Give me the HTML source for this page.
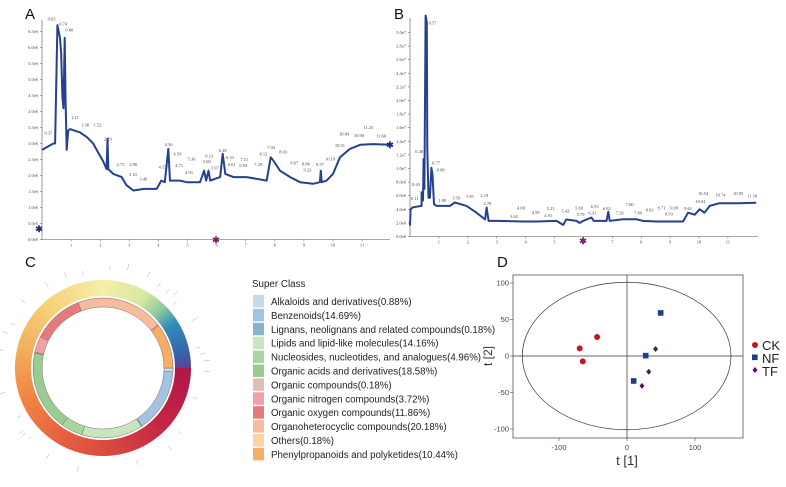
<!DOCTYPE html>
<html><head><meta charset="utf-8"><style>
html,body{margin:0;padding:0;background:#fff;}
svg{display:block;font-family:"Liberation Sans",sans-serif;}
.tk{font-family:"Liberation Serif",serif;font-size:4.5px;fill:#444;}
</style></head><body>
<svg id="fig" width="786" height="487" viewBox="0 0 786 487">
<text x="25" y="19" font-size="15" fill="#111">A</text>
<text x="394" y="19" font-size="15" fill="#111">B</text>
<text x="25" y="267" font-size="15" fill="#111">C</text>
<text x="497" y="267" font-size="15" fill="#111">D</text>
<g id="pa"></g>
<g id="pb"></g>
<g id="pc"></g>
<g id="pl"></g>
<g id="pd"></g>
</svg>
<script>
// ---------- Panel A data ----------
const aTimes=[0,0.39,0.45,0.53,0.62,0.66,0.70,0.74,0.78,0.81,0.85,0.90,0.96,1.3,1.54,1.76,1.94,2.1,2.22,2.25,2.28,2.45,2.74,2.9,3.14,3.5,3.94,4.1,4.22,4.34,4.4,4.74,4.97,5.43,5.57,5.64,5.72,5.78,6.12,6.21,6.3,6.58,7.03,7.72,7.86,7.95,8.18,8.53,8.87,9.32,9.55,9.58,9.61,9.78,10.0,10.24,10.58,10.93,11.39,11.96];
const aVals=[2.8,3.0,3.0,6.7,6.3,5.8,4.45,4.1,6.3,4.3,2.8,3.4,3.45,3.35,3.2,3.0,2.7,2.45,2.2,3.15,2.2,2.05,1.95,1.7,1.53,1.58,1.58,1.84,1.79,2.83,1.84,1.84,1.79,1.79,2.15,1.84,2.15,1.84,1.95,2.68,2.05,1.95,1.95,1.84,2.57,2.47,2.15,1.95,1.79,1.74,1.79,2.15,1.79,1.84,2.05,2.57,2.83,2.96,2.98,2.96];
const aYTicks=["0.0e0","5.0e5","1.0e6","1.5e6","2.0e6","2.5e6","3.0e6","3.5e6","4.0e6","4.5e6","5.0e6","5.5e6","6.0e6","6.5e6"];
const aXTicks=[1,2,3,4,5,6,7,8,9,10,11];
const aLabels=["0.37","0.65","0.74","0.80","1.11","1.38","1.52","2.29","2.73","2.90","3.10","3.49","4.15","4.36","4.59","4.71","4.91","5.36","5.68","6.13","5.97","6.28","6.33","6.61","6.94","7.11","7.29","8.12","7.94","8.03","8.67","8.86","9.23","9.57","10.19","10.51","10.84","10.90","11.25","11.60"];
const aLabT=[0.22,0.33,0.73,0.94,1.13,1.48,1.91,2.26,2.7,3.14,3.12,3.48,4.14,4.35,4.65,4.71,5.06,5.14,5.66,5.75,5.94,6.21,6.46,6.52,6.92,6.95,7.43,7.61,7.87,8.29,8.67,9.07,9.12,9.55,9.9,10.24,10.38,10.89,11.21,11.65];
const aLabI=[3.28,6.84,6.69,6.5,3.76,3.53,3.53,3.1,2.3,2.3,1.98,1.84,2.22,2.92,2.63,2.26,2.05,2.47,2.39,2.57,2.19,2.73,2.52,2.3,2.26,2.45,2.3,2.63,2.83,2.68,2.34,2.31,2.13,2.3,2.47,2.89,3.25,3.2,3.45,3.18];
// ---------- Panel B data ----------
const bTimes=[0,0.02,0.1,0.4,0.4,0.45,0.47,0.5,0.54,0.58,0.6,0.64,0.69,0.74,0.78,0.83,0.92,1.38,1.55,1.96,2.3,2.6,2.65,2.72,3.0,3.92,4.38,5.07,5.3,5.41,5.76,5.87,5.99,6.28,6.36,6.80,6.86,6.91,7.37,7.83,8.06,8.53,9.45,9.62,9.85,10.02,10.19,10.37,10.71,11.4,11.98];
const bVals=[1.6,4.0,4.3,4.5,6.5,5.3,11.4,7.0,32.5,31.5,13.0,5.7,5.7,10.1,9.1,4.75,4.5,4.5,5.0,4.5,3.5,2.5,4.26,2.3,2.3,2.2,2.2,2.3,1.7,2.5,2.3,2.0,2.3,2.8,2.3,2.3,3.65,2.3,2.55,2.55,2.3,2.2,2.2,3.5,3.2,4.0,3.5,4.5,4.9,4.9,4.95];
const bYTicks=["0.0e0","2.0e6","4.0e6","6.0e6","8.0e6","1.0e7","1.2e7","1.4e7","1.6e7","1.8e7","2.0e7","2.2e7","2.4e7","2.6e7","2.8e7","3.0e7"];
const bXTicks=[1,2,3,4,5,6,7,8,9,10,11];
const bLabels=["0.57","0.48","0.77","0.88","0.43","0.11","1.09","1.59","1.95","2.19","2.78","3.62","4.00","4.59","4.91","5.21","5.42","5.69","5.79","6.31","6.55","6.82","7.26","7.60","7.89","8.03","8.71","8.93","9.09","9.61","10.04","10.54","10.74","10.85","11.50"];
const bLabT=[0.78,0.32,0.9,1.06,0.21,0.17,1.12,1.59,2.07,2.57,2.68,3.6,3.84,4.35,4.78,4.87,5.38,5.85,5.9,6.31,6.39,6.81,7.26,7.6,7.89,8.29,8.7,8.96,9.14,9.62,10.05,10.14,10.74,11.35,11.84];
const bLabI=[31.2,12.25,10.6,9.56,7.45,5.34,5.1,5.44,5.64,5.83,4.6,2.7,4.0,3.3,2.9,3.87,3.5,4.0,3.0,3.2,4.17,3.9,3.2,4.5,3.24,3.68,4.0,3.1,4.0,3.87,4.9,6.08,5.88,6.08,5.73];
// ---------- Panel C data ----------
const cClasses=["Alkaloids and derivatives","Benzenoids","Lignans, neolignans and related compounds","Lipids and lipid-like molecules","Nucleosides, nucleotides, and analogues","Organic acids and derivatives","Organic compounds","Organic nitrogen compounds","Organic oxygen compounds","Organoheterocyclic compounds","Others","Phenylpropanoids and polyketides"];
const cPercents=[0.88,14.69,0.18,14.16,4.96,18.58,0.18,3.72,11.86,20.18,0.18,10.44];
const cColors=["#c6dbe8","#a2c4e2","#86b4d0","#c7e6c0","#a7d6a0","#98cc92","#dcc0b6","#f0a0a8","#e57a7e","#f5bca0","#f8d4a8","#f6ad6a"];
const cTickAngles=[-128,-104,-80,-64,-50,-34,-22,-12,4,14,26,34,40,44,48,62,78,82,86,92,108,130,140,160,194,212,226,230,240,290];
// ---------- Panel D data ----------
const ckX=[-69.6,-65,-44], ckY=[10.5,-7.3,26];
const nfX=[49.5,27.5,9.8], nfY=[59,0.5,-34.2];
const tfX=[42,32,22], tfY=[9.6,-21.5,-41];
const dTicks=[-100,0,100], dYTicks=[100,50,0,-50,-100];

const NS="http://www.w3.org/2000/svg";
function mk(tag,attrs,parent,txt){const e=document.createElementNS(NS,tag);for(const k in attrs)e.setAttribute(k,attrs[k]);if(txt!==undefined)e.textContent=txt;parent.appendChild(e);return e;}

function chrom(g,o){
  const X=t=>o.x0+t*o.px, Y=v=>o.y0-v*o.py;
  const ax=mk('path',{d:`M${o.x0} ${o.top}V${o.y0}H${o.xEnd}`,stroke:'#555',fill:'none','stroke-width':0.6},g);
  
  
  o.yt.forEach((s,i)=>{const y=Y(i*o.step);
    const t=mk('text',{x:o.x0-4,y:y+1.5,'text-anchor':'end',class:'tk'},g,s);
    
    
    mk('line',{x1:o.x0-2,x2:o.x0,y1:y,y2:y,stroke:'#555','stroke-width':0.5},g);});
  o.xt.forEach(v=>{const x=X(v);
    mk('line',{x1:x,x2:x,y1:o.y0,y2:o.y0+2,stroke:'#555','stroke-width':0.5},g);
    const t=mk('text',{x:x,y:o.y0+7,'text-anchor':'middle',class:'tk'},g,String(v));
    
    });
  let d='';o.t.forEach((t,i)=>{d+=(i?'L':'M')+X(t).toFixed(1)+' '+Math.max(Y(o.v[i]),o.top-8).toFixed(1);});
  const ln=mk('path',{d:d,stroke:'#24408f',fill:'none','stroke-width':2,'stroke-linejoin':'round'},g);
  
  
  o.lab.forEach((s,i)=>{const t=mk('text',{x:X(o.lt[i]),y:Y(o.li[i]),'text-anchor':'middle',class:'tk',fill:'#333'},g,s);
    
    });
}
chrom(document.getElementById('pa'),{x0:42,px:29.1,y0:239.5,py:32,top:20,xEnd:390,step:0.5,yt:aYTicks,xt:aXTicks,t:aTimes,v:aVals,lab:aLabels,lt:aLabT,li:aLabI});
chrom(document.getElementById('pb'),{x0:410,px:28.9,y0:236.5,py:6.8,top:18,xEnd:758,step:2,yt:bYTicks,xt:bXTicks,t:bTimes,v:bVals,lab:bLabels,lt:bLabT,li:bLabI});
// markers
const g0=document.getElementById('fig');
[[39,229,'#1f2f7a','marker-a-left'],[216,240,'#7a1f6a','marker-a-bottom'],[390,145,'#1f2f7a','marker-b-left'],[583,241,'#7a1f6a','marker-b-bottom']].forEach(m=>{
  const t=mk('text',{x:m[0],y:m[1]+3,'text-anchor':'middle','font-size':9,fill:m[2],'font-weight':'bold'},g0,'✱');
  
  });

// ---------- Panel C ----------
const gc=document.getElementById('pc');
const cx=103,cy=368;
function arc(r1,r2,a1,a2){const f=(r,a)=>[cx+r*Math.sin(a*Math.PI/180),cy-r*Math.cos(a*Math.PI/180)];
  const L=(a2-a1)>180?1:0;const p1=f(r2,a1),p2=f(r2,a2),p3=f(r1,a2),p4=f(r1,a1);
  return `M${p1[0]} ${p1[1]}A${r2} ${r2} 0 ${L} 1 ${p2[0]} ${p2[1]}L${p3[0]} ${p3[1]}A${r1} ${r1} 0 ${L} 0 ${p4[0]} ${p4[1]}Z`;}
const stops=[[0,[244,238,172]],[30,[214,232,160]],[45,[140,200,160]],[58,[50,140,185]],[80,[52,100,170]],[89,[90,70,150]],[90,[176,24,72]],[135,[196,38,70]],[175,[216,72,64]],[215,[232,100,62]],[255,[240,140,72]],[285,[243,176,96]],[320,[246,210,120]],[360,[244,238,172]]];
function col(a){for(let i=0;i<stops.length-1;i++){if(a>=stops[i][0]&&a<=stops[i+1][0]){const f=(a-stops[i][0])/((stops[i+1][0]-stops[i][0])||1);const c=stops[i][1].map((v,k)=>Math.round(v+(stops[i+1][1][k]-v)*f));return `rgb(${c})`;}}return '#fff';}
for(let a=0;a<360;a+=2){const p=mk('path',{d:arc(72,88,a,a+2.3),fill:col(a+1)},gc);
  
  }
let ang=90;
cPercents.forEach((p,i)=>{const a2=ang+p*3.6;
  const s=mk('path',{d:arc(61,70,ang,a2),fill:cColors[i],stroke:'#8a6a5a','stroke-width':0.5},gc);
  
  ang=a2;});
cTickAngles.forEach(a=>{const r1=95+(Math.abs(a)%3)*3,r2=r1+4+(Math.abs(a)%3);const s=Math.sin(a*Math.PI/180),c=Math.cos(a*Math.PI/180);
  const l=mk('line',{x1:cx+r1*s,y1:cy-r1*c,x2:cx+r2*s,y2:cy-r2*c,stroke:'#aaa','stroke-width':0.5},gc);
  
  });

// ---------- Legend ----------
const gl=document.getElementById('pl');
const lt=mk('text',{x:252,y:287,'font-size':9.8,fill:'#222'},gl,'Super Class');


cClasses.forEach((n,i)=>{const y=295+i*13.9;
  const r=mk('rect',{x:253,y:y,width:11,height:12.5,fill:cColors[i]},gl);
  
  
  const t=mk('text',{x:271,y:y+10,'font-size':9.7,fill:'#222'},gl,n+'('+cPercents[i].toFixed(2)+'%)');
  
  });

// ---------- Panel D ----------
const gd=document.getElementById('pd');
const DX=v=>627+v*0.68, DY=v=>356-v*0.73;
const box=mk('rect',{x:513,y:275,width:230,height:163,fill:'none',stroke:'#555','stroke-width':0.8},gd);


mk('line',{x1:DX(0),x2:DX(0),y1:275,y2:438,stroke:'#333','stroke-width':0.7},gd);
mk('line',{x1:513,x2:743,y1:DY(0),y2:DY(0),stroke:'#333','stroke-width':0.7},gd);
const el=mk('ellipse',{cx:DX(-0.5),cy:DY(0),rx:153.5*0.68,ry:101*0.73,fill:'none',stroke:'#333','stroke-width':0.7},gd);


dTicks.forEach(v=>{mk('line',{x1:DX(v),x2:DX(v),y1:438,y2:441,stroke:'#555','stroke-width':0.6},gd);
  const t=mk('text',{x:DX(v),y:450,'text-anchor':'middle','font-size':7.5,fill:'#444'},gd,String(v));
  
  });
dYTicks.forEach(v=>{mk('line',{x1:510,x2:513,y1:DY(v),y2:DY(v),stroke:'#555','stroke-width':0.6},gd);
  const t=mk('text',{x:509,y:DY(v)+2.5,'text-anchor':'end','font-size':7.5,fill:'#444'},gd,String(v));
  
  });
const xt=mk('text',{x:627,y:465,'text-anchor':'middle','font-size':13,fill:'#333'},gd,'t [1]');


const yt=mk('text',{x:0,y:0,'text-anchor':'middle','font-size':12,fill:'#333',transform:'translate(492,356) rotate(-90)'},gd,'t [2]');


ckX.forEach((x,i)=>{const c=mk('circle',{cx:DX(x),cy:DY(ckY[i]),r:3,fill:'#c8161d'},gd);
  
  });
nfX.forEach((x,i)=>{const c=mk('rect',{x:DX(x)-2.8,y:DY(nfY[i])-2.8,width:5.6,height:5.6,fill:'#1c3f8c'},gd);
  
  });
tfX.forEach((x,i)=>{const X=DX(x),Y=DY(tfY[i]);const c=mk('path',{d:`M${X} ${Y-3}L${X+2.5} ${Y}L${X} ${Y+3}L${X-2.5} ${Y}Z`,fill:'#4a1a55'},gd);
  
  });
const lc=mk('circle',{cx:755,cy:345,r:3,fill:'#c8161d'},gd);


const ln1=mk('rect',{x:752,y:354.5,width:5.6,height:5.6,fill:'#1c3f8c'},gd);


const ln2=mk('path',{d:'M755 367L757.5 370L755 373L752.5 370Z',fill:'#4a1a55'},gd);


[['CK',350],['NF',363],['TF',376]].forEach(a=>{const t=mk('text',{x:762,y:a[1],'font-size':13,fill:'#222'},gd,a[0]);
  
  });
</script>
</body></html>
